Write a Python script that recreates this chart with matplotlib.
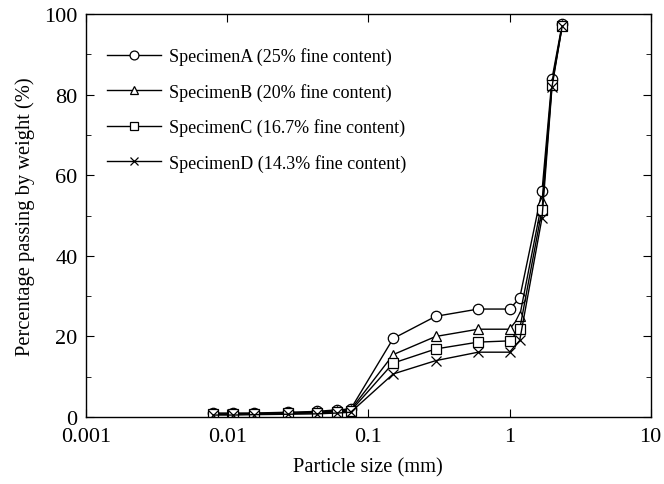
import matplotlib
matplotlib.use("Agg")
from matplotlib import pyplot as plt
from matplotlib.ticker import MultipleLocator, NullLocator, FixedLocator

plt.rcParams['font.family'] = ['Liberation Serif', 'DejaVu Serif']

# sieve sizes (mm)
sizes = [0.008, 0.011, 0.0155, 0.027, 0.043, 0.06, 0.075, 0.15, 0.3, 0.6, 1.0, 1.18, 1.7, 2.0, 2.36]

passA = [1.0, 1.0, 1.0, 1.2, 1.4, 1.8, 2.0, 19.5, 25.0, 26.8, 26.8, 29.5, 56.2, 84.0, 97.5]
passB = [0.8, 0.8, 0.9, 1.0, 1.2, 1.5, 1.8, 15.5, 20.0, 21.8, 21.8, 25.0, 53.5, 83.0, 97.2]
passC = [0.7, 0.7, 0.8, 0.9, 1.0, 1.3, 1.5, 13.4, 16.9, 18.6, 18.9, 21.8, 51.5, 82.5, 97.0]
passD = [0.5, 0.5, 0.6, 0.7, 0.8, 1.0, 1.2, 10.7, 14.0, 16.1, 16.1, 19.0, 49.5, 82.0, 97.0]

labels = ["SpecimenA (25% fine content)",
          "SpecimenB (20% fine content)",
          "SpecimenC (16.7% fine content)",
          "SpecimenD (14.3% fine content)"]
markers = ["o", "^", "s", "x"]

fig = plt.figure(figsize=(6.64, 4.85), dpi=100)
ax = fig.add_axes([0.1295, 0.138, 0.8505, 0.831])

for ys, lab, m in zip([passA, passB, passC, passD], labels, markers):
    ax.plot(sizes, ys, color="black", lw=1.0, marker=m, markersize=7.5,
            markerfacecolor="white", markeredgecolor="black", markeredgewidth=0.9,
            label=lab)

ax.set_xscale("log")
ax.set_xlim(0.001, 10)
ax.set_ylim(0, 100)
ax.xaxis.set_major_locator(FixedLocator([0.001, 0.01, 0.1, 1, 10]))
ax.xaxis.set_minor_locator(NullLocator())
ax.set_xticklabels(["0.001", "0.01", "0.1", "1", "10"])
ax.yaxis.set_major_locator(MultipleLocator(20))
ax.yaxis.set_minor_locator(MultipleLocator(10))
ax.tick_params(which="both", direction="in", top=True, right=True, labelsize=16)
ax.tick_params(which="major", length=6)
ax.tick_params(which="minor", length=3.5)
ax.tick_params(axis="x", pad=7.5)
ax.tick_params(axis="y", pad=6)
for s in ax.spines.values():
    s.set_linewidth(1.0)

ax.set_xlabel("Particle size (mm)", fontsize=14.8, labelpad=8)
ax.set_ylabel("Percentage passing by weight (%)", fontsize=14.8, labelpad=7)

ax.legend(loc="upper left", bbox_to_anchor=(0.0245, 0.935), borderaxespad=0,
          frameon=False, fontsize=13, handlelength=3.0, markerscale=0.85,
          labelspacing=0.97, handletextpad=0.45)

fig.savefig("out.png", dpi=100)
